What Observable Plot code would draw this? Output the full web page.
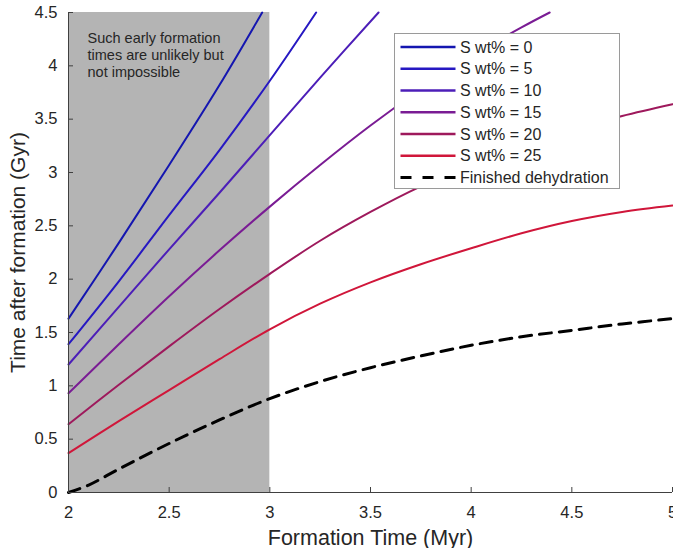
<!DOCTYPE html>
<html>
<head>
<meta charset="utf-8">
<script src="https://cdn.jsdelivr.net/npm/d3@7"></script>
<script src="https://cdn.jsdelivr.net/npm/@observablehq/plot@0.6"></script>
<style>
  html, body { margin: 0; padding: 0; background: white; }
  svg { display: block; }
</style>
</head>
<body>
<div id="chart"></div>
<script>
// ---------- data ----------
const seriesNames = ["S wt% = 0", "S wt% = 5", "S wt% = 10", "S wt% = 15", "S wt% = 20", "S wt% = 25"];
const seriesColors = ["#1416b0", "#2618c2", "#4c1eb8", "#7a1c94", "#9e195c", "#d0163a"];

const s0X = [2, 2.25, 2.5, 2.75, 2.962];
const s0Y = [1.63, 2.34, 3.07, 3.82, 4.5];
const s5X = [2, 2.25, 2.5, 2.75, 3, 3.23];
const s5Y = [1.39, 1.98, 2.60, 3.21, 3.86, 4.5];
const s10X = [2, 2.25, 2.5, 2.75, 3, 3.25, 3.54];
const s10Y = [1.20, 1.74, 2.28, 2.81, 3.35, 3.89, 4.5];
const s15X = [2, 2.25, 2.5, 2.75, 3, 3.25, 3.5, 3.75, 4, 4.25, 4.39];
const s15Y = [0.93, 1.39, 1.84, 2.27, 2.68, 3.07, 3.44, 3.78, 4.09, 4.36, 4.5];
const s20X = [2, 2.25, 2.5, 2.75, 3, 3.25, 3.5, 3.75, 4, 4.25, 4.5, 4.75, 5];
const s20Y = [0.64, 1.01, 1.37, 1.72, 2.05, 2.36, 2.63, 2.87, 3.07, 3.25, 3.40, 3.53, 3.64];
const s25X = [2, 2.25, 2.5, 2.75, 3, 3.25, 3.5, 3.75, 4, 4.25, 4.5, 4.75, 5];
const s25Y = [0.37, 0.67, 0.96, 1.25, 1.53, 1.77, 1.97, 2.14, 2.29, 2.43, 2.545, 2.63, 2.69];

const dehydrationName = "Finished dehydration";
const dehydX = [2, 2.1, 2.25, 2.5, 2.75, 3, 3.25, 3.5, 3.75, 4, 4.25, 4.5, 4.75, 5];
const dehydY = [0, 0.07, 0.22, 0.46, 0.68, 0.88, 1.04, 1.17, 1.28, 1.38, 1.46, 1.52, 1.58, 1.63];

const shadeStart = 2, shadeEnd = 3;
const annotationText = "Such early formation\ntimes are unlikely but\nnot impossible";

const xDomain = [2, 5];
const yDomain = [0, 4.5];
const xTicks = [2, 2.5, 3, 3.5, 4, 4.5, 5];
const yTicks = [0, 0.5, 1, 1.5, 2, 2.5, 3, 3.5, 4, 4.5];
const xLabel = "Formation Time (Myr)";
const yLabel = "Time after formation (Gyr)";

// ---------- build table ----------
const seriesXs = [s0X, s5X, s10X, s15X, s20X, s25X];
const seriesYs = [s0Y, s5Y, s10Y, s15Y, s20Y, s25Y];
const rows = [];
seriesNames.forEach((name, i) => {
  seriesXs[i].forEach((x, j) => rows.push({series: name, x, y: seriesYs[i][j]}));
});
const dehydRows = dehydX.map((x, j) => ({x, y: dehydY[j]}));

const W = 673, H = 548;
const mL = 68, mR = 1, mT = 12, mB = 56;
const frameW = W - mL - mR, frameH = H - mT - mB;
const textColor = "#262626";
const font = "'Liberation Sans', Arial, Helvetica, sans-serif";

const svg = Plot.plot({
  width: W, height: H,
  marginLeft: mL, marginRight: mR, marginTop: mT, marginBottom: mB,
  style: {fontFamily: font, background: "white", overflow: "visible"},
  x: {domain: xDomain},
  y: {domain: yDomain},
  color: {domain: seriesNames, range: seriesColors},
  marks: [
    Plot.rect([{x1: shadeStart, x2: shadeEnd}], {x1: "x1", x2: "x2", y1: yDomain[0], y2: yDomain[1], fill: "#b4b4b4"}),
    Plot.text([annotationText], {frameAnchor: "top-left", dx: 19, dy: 18.5, lineAnchor: "top", textAnchor: "start",
      fontSize: 14.5, lineHeight: 1.18, fill: textColor}),
    Plot.line(rows, {x: "x", y: "y", z: "series", stroke: "series", strokeWidth: 2, curve: "catmull-rom"}),
    Plot.line(dehydRows, {x: "x", y: "y", stroke: "black", strokeWidth: 3, strokeDasharray: "12,8", curve: "catmull-rom"}),
    Plot.ruleX([xDomain[0]], {stroke: "#404040", strokeWidth: 1}),
    Plot.ruleY([yDomain[0]], {stroke: "#404040", strokeWidth: 1}),
    Plot.tickX(xTicks, {x: d => d, insetTop: frameH - 5, stroke: "#404040"}),
    Plot.tickY(yTicks, {y: d => d, insetRight: frameW - 5, stroke: "#404040"}),
    Plot.axisX({ticks: xTicks, tickSize: 0, tickPadding: 14, fontSize: 16.5, label: null, color: textColor, tickFormat: d => String(d)}),
    Plot.axisY({ticks: yTicks, tickSize: 0, tickPadding: 11, fontSize: 16.5, label: null, color: textColor, tickFormat: d => String(d)}),
    Plot.text([xLabel], {frameAnchor: "bottom", textAnchor: "middle", dy: 52, fontSize: 21.5, fill: textColor}),
    Plot.text([yLabel], {frameAnchor: "left", textAnchor: "middle", dx: -50, rotate: -90, fontSize: 21, fill: textColor})
  ]
});

// ---------- legend (inside the plot area, drawn into the same SVG) ----------
const legendItems = seriesNames.map((n, i) => ({label: n, color: seriesColors[i], dash: null, width: 2.4}))
  .concat([{label: dehydrationName, color: "black", dash: "11,11", width: 3}]);
const lg = d3.select(svg).append("g").attr("transform", "translate(394.5,33.5)");
lg.append("rect").attr("width", 225).attr("height", 155).attr("fill", "white").attr("stroke", "#9a9a9a").attr("stroke-width", 1);
legendItems.forEach((it, i) => {
  const cy = 13.5 + i * 21.75;
  lg.append("line").attr("x1", 6).attr("x2", 61).attr("y1", cy).attr("y2", cy)
    .attr("stroke", it.color).attr("stroke-width", it.width).attr("stroke-dasharray", it.dash);
  lg.append("text").attr("x", 65.5).attr("y", cy).attr("dy", "0.35em").attr("text-anchor", "start")
    .attr("font-family", font).attr("font-size", 16).attr("fill", textColor).text(it.label);
});

document.getElementById("chart").appendChild(svg);
</script>
</body>
</html>
